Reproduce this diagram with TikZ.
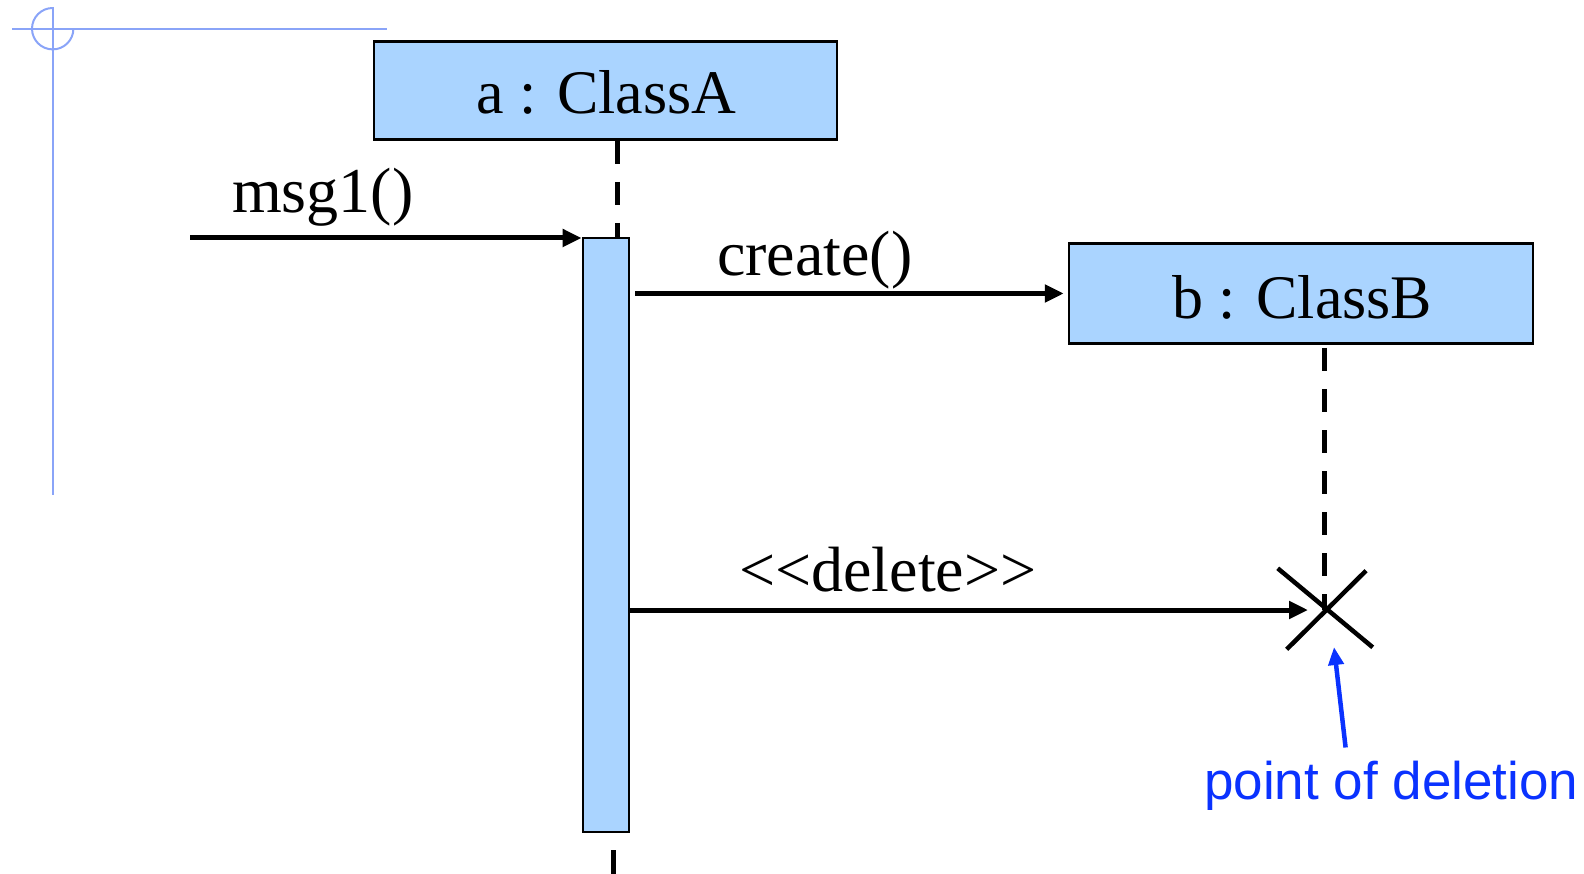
\documentclass[tikz,border=0pt]{standalone}
\usepackage{fontspec}
\setmainfont{Liberation Serif}
\newfontfamily\labelsans{Liberation Sans}
\usetikzlibrary{arrows.meta}
\definecolor{objfill}{HTML}{AAD4FF}
\definecolor{guideblue}{HTML}{8AA4F8}
\definecolor{noteblue}{HTML}{0A32FF}
\tikzset{
  objbox/.style={draw=black, line width=2.5pt, fill=objfill, inner sep=0pt},
  msgtext/.style={inner sep=0pt, anchor=base west, font=\fontsize{64}{70}\selectfont},
  objtext/.style={inner sep=0pt, anchor=base west, font=\fontsize{62}{70}\selectfont},
  msgarrow/.style={line width=5pt, -{Triangle[length=19pt,width=17pt]}},
  lifeline/.style={line width=5pt, dash pattern=on 23pt off 18pt},
  guide/.style={draw=guideblue, line width=2pt},
}
\begin{document}
\begin{tikzpicture}[x=1pt, y=-1pt]
\useasboundingbox (0,0) rectangle (1584,874);

% page guide marks
\draw[guide] (12,28.7) -- (387,28.7);
\draw[guide] (52.7,7) -- (52.7,495);
\draw[guide] (52.7,8) arc[start angle=270, end angle=0, radius=20.7];

% object boxes
\node[objbox, minimum width=463pt, minimum height=98pt] (a) at (605.5,90.4) {};
\node[objtext] (alabel) at (476,113.3) {a : ClassA};
\node[objbox, minimum width=464pt, minimum height=100pt] (b) at (1301,293.5) {};
\node[objtext] (blabel) at (1172,318.3) {b : ClassB};

% activation bar of a
\node[objbox, line width=2pt, minimum width=46.6pt, minimum height=594pt] (act) at (606,535) {};

% lifelines
\coordinate (atop) at (617.7,141);
\coordinate (atopend) at (617.7,237);
\draw[lifeline] (atop) -- (atopend);
\coordinate (abot) at (613,850);
\coordinate (abotend) at (613,874);
\draw[line width=5pt] (abot) -- (abotend);
\coordinate (btop) at (1324,348);
\coordinate (x) at (1325,610);
\draw[lifeline] (btop) -- (btop |- x);

% destruction mark
\draw[line width=4.5pt] (1277.7,568.3) -- (1372.7,647.3);
\draw[line width=4.5pt] (1366,570.7) -- (1286.7,649.3);

% messages
\coordinate (msgstart) at (190,238);
\draw[msgarrow] (msgstart) -- (act.north west |- msgstart);
\node[msgtext] (m1) at (232,212.7) {msg1()};

\draw[msgarrow, shorten <=5pt, shorten >=4pt] (act.east |- b.west) -- (b.west);
\node[msgtext] (m2) at (717,276) {create()};

\coordinate (delstart) at (act.east |- x);
\draw[msgarrow, shorten >=17pt] (delstart) -- (x);
\node[msgtext] (m3) at (739,591.7) {{<}{<}delete{>}{>}};

% note
\node[inner sep=0pt, anchor=base west, text=noteblue, font=\labelsans\fontsize{53}{60}\selectfont] (note) at (1204,799) {point of deletion};
\coordinate (notetip) at (1345.6,747.5);
\draw[draw=noteblue, line width=4.5pt, -{Triangle[length=18pt,width=15pt]}] (notetip) -- (1334,647);
\end{tikzpicture}
\end{document}
